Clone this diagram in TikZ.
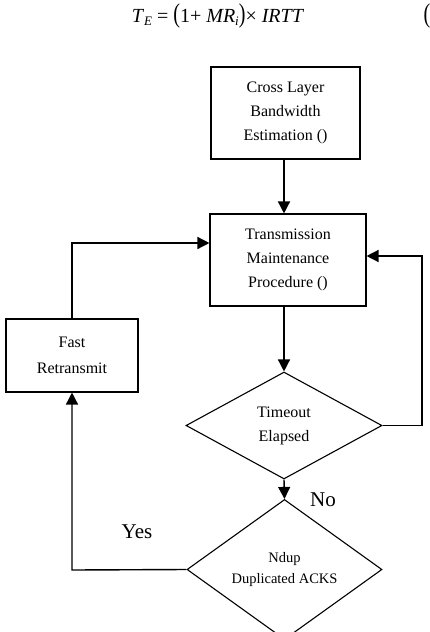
\documentclass[tikz,border=0pt]{standalone}
\usepackage{fontspec}
\setmainfont{Liberation Serif}
\usetikzlibrary{shapes.geometric,arrows.meta}
\tikzset{
  procbox/.style={draw, line width=1.1pt, inner sep=0pt, align=center, font=\fontsize{16}{24}\selectfont},
  decision/.style={draw, diamond, line width=1.1pt, inner sep=0pt, align=center},
  conn/.style={line width=1.4pt},
  arr/.style={conn, -{Triangle[length=12pt,width=12pt]}},
  lbl/.style={font=\fontsize{21}{24}\selectfont}
}
\begin{document}
\begin{tikzpicture}[x=1pt,y=-1pt]
\useasboundingbox (0,0) rectangle (430,632);
% equation
\node (eq) at (218,16) {\fontsize{20}{24}\selectfont\textit{T}\raisebox{-0.35ex}{\fontsize{13}{14}\selectfont\textit{E}} = \scalebox{1}[1.35]{(}1+ \textit{MR}\raisebox{-0.35ex}{\fontsize{13}{14}\selectfont\textit{i}}\scalebox{1}[1.35]{)}× \textit{IRTT}};
\node[anchor=west] (eqn) at (420,16) {\fontsize{20}{24}\selectfont\scalebox{1}[1.35]{(}};
% boxes
\node[procbox, minimum width=149pt, minimum height=92pt] (cl) at (285.5,113) {Cross Layer\\Bandwidth\\Estimation ()};
\node[procbox, minimum width=156pt, minimum height=92pt] (tm) at (288,260) {Transmission\\Maintenance\\Procedure ()};
\node[procbox, minimum width=132pt, minimum height=73pt, font=\fontsize{16}{26}\selectfont] (fr) at (72,355.5) {Fast\\Retransmit};
\node[decision, minimum width=196pt, minimum height=107pt, font=\fontsize{16}{24}\selectfont] (to) at (284,425.5) {Timeout\\Elapsed};
\node[decision, minimum width=195pt, minimum height=107pt, font=\fontsize{14.5}{21}\selectfont] (nd) at (284.5,569.5) {Ndup\\Duplicated ACKS};
% coordinates
\coordinate (r1) at (422,425.5);
\coordinate (r2) at (422,256);
\coordinate (l1) at (72,570);
\coordinate (l2) at (72,243);
% connectors
\draw[arr] (cl.south -| 284,0) -- (tm.north -| 284,0);
\draw[arr] (tm.south -| 284,0) -- (to.north);
\draw[arr] (to.south) -- (nd.north);
\draw[arr] (to.east) -- (r1) -- (r2) -- (tm.east |- r2);
\draw[arr] (nd.west) -- (l1) -- (fr.south);
\draw[arr] (fr.north) -- (l2) -- (tm.west |- l2);
% labels
\node[lbl] (no) at (323,500) {No};
\node[lbl] (yes) at (137,532) {Yes};
\end{tikzpicture}
\end{document}
